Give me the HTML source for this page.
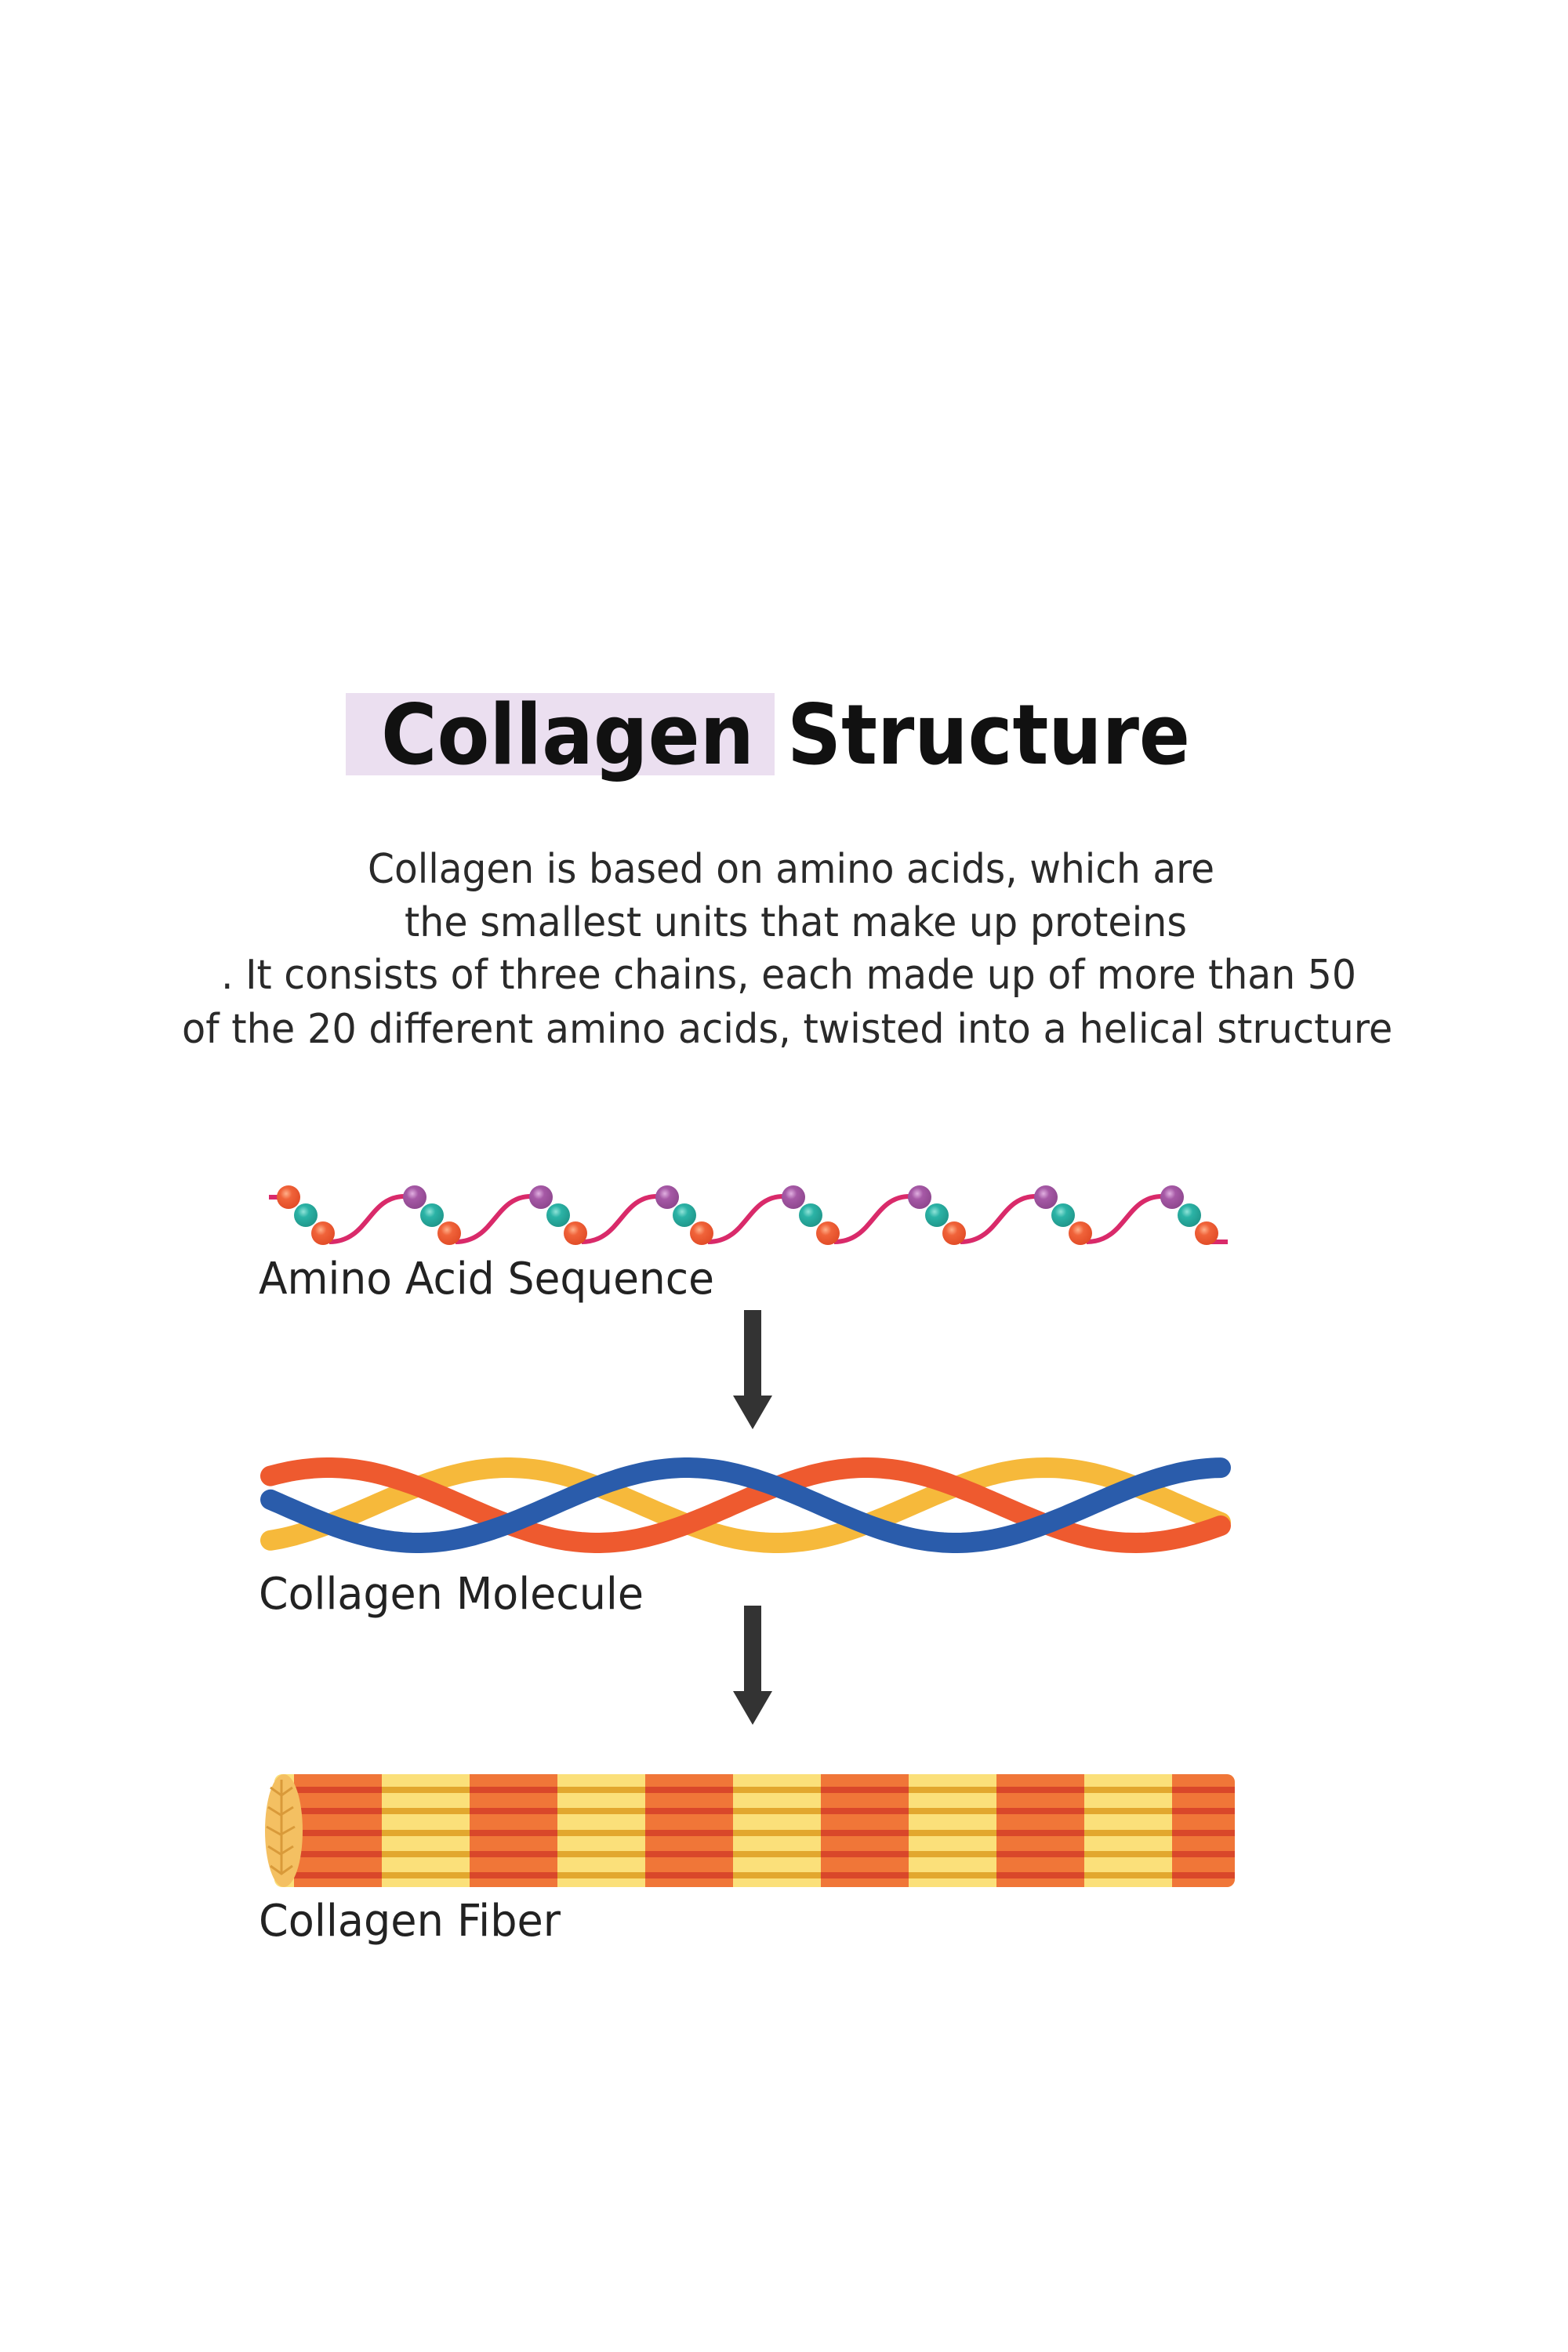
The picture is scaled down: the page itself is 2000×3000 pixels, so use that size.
<!DOCTYPE html>
<html><head><meta charset="utf-8"><style>
html,body{margin:0;padding:0;background:#fff;}
svg{display:block;}
</style></head><body>
<svg width="2000" height="3000" viewBox="0 0 2000 3000" xmlns="http://www.w3.org/2000/svg">
<rect width="2000" height="3000" fill="#fff"/>
<rect x="441" y="884" width="547" height="105" fill="#ebdff0"/>
<text x="486" y="974" font-family="DejaVu Sans, Liberation Sans, sans-serif" font-weight="bold" font-size="106" fill="#111" textLength="476" lengthAdjust="spacingAndGlyphs">Collagen</text>
<text x="1004" y="974" font-family="DejaVu Sans, Liberation Sans, sans-serif" font-weight="bold" font-size="106" fill="#111" textLength="514" lengthAdjust="spacingAndGlyphs">Structure</text>
<g font-family="DejaVu Sans, Liberation Sans, sans-serif" font-size="52" fill="#2a2a2a">
<text x="469" y="1126" textLength="1080" lengthAdjust="spacingAndGlyphs">Collagen is based on amino acids, which are</text>
<text x="516" y="1194" textLength="998" lengthAdjust="spacingAndGlyphs">the smallest units that make up proteins</text>
<text x="282" y="1261" textLength="1448" lengthAdjust="spacingAndGlyphs">. It consists of three chains, each made up of more than 50</text>
<text x="232" y="1330" textLength="1560" lengthAdjust="spacingAndGlyphs">of the 20 different amino acids, twisted into a helical structure.</text>
</g>
<rect x="1781" y="1280" width="40" height="70" fill="#fff"/>
<g>
<path d="M343 1527 L368 1527" stroke="#d92a6a" stroke-width="6" fill="none"/>
<g id="seg">
<path d="M420 1584 C470 1584 470 1526 516 1526" stroke="#d92a6a" stroke-width="6" fill="none"/>
</g>
<use href="#seg" x="161"/><use href="#seg" x="322"/><use href="#seg" x="483"/><use href="#seg" x="644"/><use href="#seg" x="805"/><use href="#seg" x="966"/>
<path d="M1539 1584 L1566 1584" stroke="#d92a6a" stroke-width="6" fill="none"/>
<defs>
<radialGradient id="go" cx="0.4" cy="0.35" r="0.7"><stop offset="0" stop-color="#ffb08a"/><stop offset="0.35" stop-color="#f0633a"/><stop offset="1" stop-color="#e04a25"/></radialGradient>
<radialGradient id="gt" cx="0.4" cy="0.35" r="0.7"><stop offset="0" stop-color="#8fe3d8"/><stop offset="0.35" stop-color="#2bb3a6"/><stop offset="1" stop-color="#1f9488"/></radialGradient>
<radialGradient id="gp" cx="0.4" cy="0.35" r="0.7"><stop offset="0" stop-color="#e0b0e0"/><stop offset="0.35" stop-color="#a659a6"/><stop offset="1" stop-color="#8c468c"/></radialGradient>
</defs>
<g>
<circle cx="368" cy="1527" r="15" fill="url(#go)"/>
<circle cx="390" cy="1550" r="15" fill="url(#gt)"/>
<circle cx="412" cy="1573" r="15" fill="url(#go)"/>
</g>
<g id="beads">
<circle cx="529" cy="1527" r="15" fill="url(#gp)"/>
<circle cx="551" cy="1550" r="15" fill="url(#gt)"/>
<circle cx="573" cy="1573" r="15" fill="url(#go)"/>
</g>
<use href="#beads" x="161"/><use href="#beads" x="322"/><use href="#beads" x="483"/><use href="#beads" x="644"/><use href="#beads" x="805"/><use href="#beads" x="966"/>
</g>
<g font-family="DejaVu Sans, Liberation Sans, sans-serif" font-size="56" fill="#222">
<text x="330" y="1650" textLength="581" lengthAdjust="spacingAndGlyphs">Amino Acid Sequence</text>
<text x="330" y="2052" textLength="491" lengthAdjust="spacingAndGlyphs">Collagen Molecule</text>
<text x="330" y="2469" textLength="385" lengthAdjust="spacingAndGlyphs">Collagen Fiber</text>
</g>
<rect x="949" y="1671" width="22" height="112" fill="#333"/>
<polygon points="935,1780 985,1780 960,1823" fill="#333"/>
<rect x="949" y="2048" width="22" height="112" fill="#333"/>
<polygon points="935,2157 985,2157 960,2200" fill="#333"/>
<g fill="none" stroke-width="26" stroke-linecap="round" id="helix"></g>
<defs>
<clipPath id="fc"><rect x="350" y="2263" width="1225" height="144" rx="10"/></clipPath>
</defs>
<g clip-path="url(#fc)">
<rect x="350" y="2263" width="1225" height="144" fill="#fbe07a"/>
<g id="fstr"></g>
</g>
<ellipse cx="362" cy="2335" rx="24" ry="72" fill="#f4c062"/>
<g stroke="#d99a3a" stroke-width="3" fill="none">
<path d="M345 2280 l14 10 l14 -10 M342 2305 l16 10 l16 -10 M340 2330 l18 10 l18 -10 M342 2355 l16 10 l16 -10 M345 2380 l14 10 l14 -10 M359 2270 v120"/>
</g>
</svg>
<script>
(function(){
var NS="http://www.w3.org/2000/svg";
var h=document.getElementById("helix");
var P=686,A=48,C=1920;
var strands=[["#f6b93b",648],["#ee5a2f",419],["#2a5cab",876]];
strands.forEach(function(s){
 var d="";
 for(var x=345;x<=1562;x+=6){
  var y=C-A*Math.cos(2*Math.PI*(x-s[1])/P);
  d+=(x==345?"M":"L")+x+" "+y.toFixed(1)+" ";
 }
 var p=document.createElementNS(NS,"path");
 p.setAttribute("d",d);p.setAttribute("stroke",s[0]);
 h.appendChild(p);
});
var f=document.getElementById("fstr");
function r(x,y,w,hh,c){var e=document.createElementNS(NS,"rect");e.setAttribute("x",x);e.setAttribute("y",y);e.setAttribute("width",w);e.setAttribute("height",hh);e.setAttribute("fill",c);f.appendChild(e);}
var ys=[2283,2310,2338,2365,2392];
ys.forEach(function(y){r(350,y-4,1225,8,"#e2a72e");});
for(var k=0;k<6;k++){
 var x=375+224*k;
 r(x,2263,112,144,"#f07638");
 ys.forEach(function(y){r(x,y-4,112,8,"#d9472a");});
}
r(350,2263,25,144,"#fbe07a");
})();
</script>
</body></html>
